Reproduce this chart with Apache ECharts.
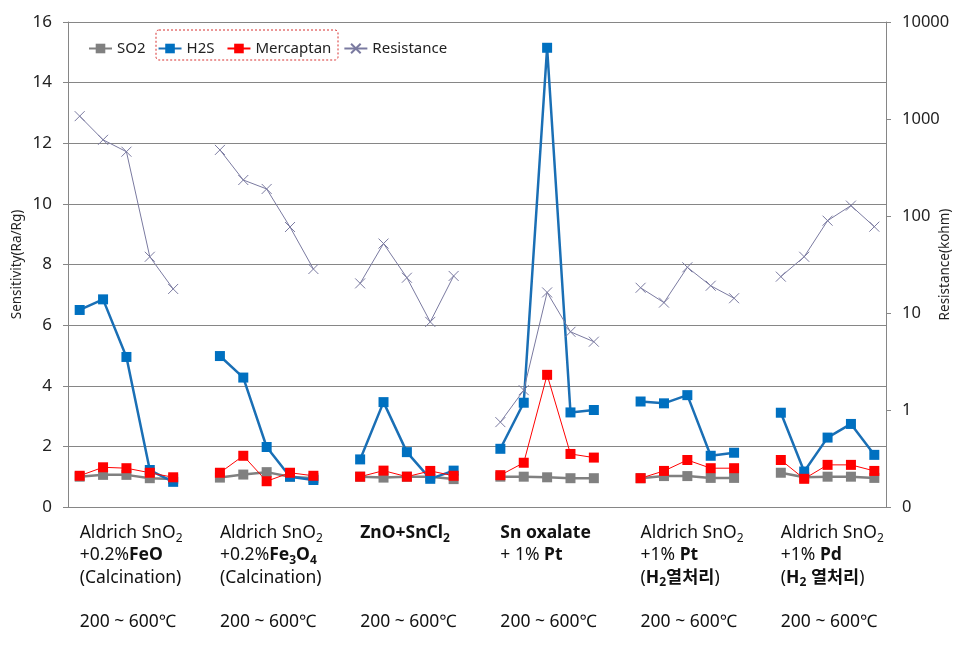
<!DOCTYPE html>
<html>
<head>
<meta charset="utf-8">
<script src="https://cdn.jsdelivr.net/npm/echarts@6/dist/echarts.min.js"></script>
<style>
html,body{margin:0;padding:0;background:#fff;}
#chart{width:962px;height:655px;}
</style>
</head>
<body>
<div id="chart"></div>
<script>
// Group labels (one per sample group, 5 temperatures each: 200~600 C)
var groupLabels = [
  'Aldrich SnO{sub|2}\n+0.2%{b|FeO}\n(Calcination)\n\n200 ~ 600℃',
  'Aldrich SnO{sub|2}\n+0.2%{b|Fe}{bsub|3}{b|O}{bsub|4}\n(Calcination)\n\n200 ~ 600℃',
  '{b|ZnO+SnCl}{bsub|2}\n\n\n\n200 ~ 600℃',
  '{b|Sn oxalate}\n+ 1% {b|Pt}\n\n\n200 ~ 600℃',
  'Aldrich SnO{sub|2}\n+1% {b|Pt}\n({b|H}{bsub|2}{b|열처리})\n\n200 ~ 600℃',
  'Aldrich SnO{sub|2}\n+1% {b|Pd}\n({b|H}{bsub|2}{b| 열처리})\n\n200 ~ 600℃'
];

// Sensitivity values per group (left axis)
var so2 = [
  [1.0, 1.06, 1.06, 0.95, 0.92],
  [0.97, 1.07, 1.15, 1.0, 0.95],
  [1.0, 0.97, 1.0, 1.0, 0.92],
  [1.0, 1.0, 0.98, 0.95, 0.95],
  [0.95, 1.02, 1.02, 0.96, 0.96],
  [1.13, 0.98, 1.0, 1.0, 0.96]
];
var h2s = [
  [6.5, 6.85, 4.95, 1.22, 0.83],
  [4.98, 4.27, 1.98, 1.0, 0.89],
  [1.57, 3.46, 1.81, 0.93, 1.2],
  [1.92, 3.44, 15.15, 3.12, 3.2],
  [3.48, 3.42, 3.69, 1.69, 1.79],
  [3.11, 1.17, 2.29, 2.74, 1.72]
];
var mercaptan = [
  [1.03, 1.31, 1.28, 1.13, 0.98],
  [1.13, 1.69, 0.85, 1.13, 1.03],
  [1.0, 1.2, 1.0, 1.19, 1.03],
  [1.05, 1.46, 4.36, 1.75, 1.63],
  [0.95, 1.19, 1.55, 1.28, 1.28],
  [1.55, 0.93, 1.39, 1.39, 1.19]
];
// Resistance (kohm, right log axis)
var resistance = [
  [1070, 610, 460, 38, 17.7],
  [480, 235, 190, 77, 28.4],
  [20.2, 52, 23.1, 8.1, 24.1],
  [0.75, 1.6, 16.3, 6.4, 5.06],
  [18.2, 12.8, 29.6, 19.1, 14.2],
  [23.7, 38, 89.5, 128, 77.6]
];
var rightTicks = [0.1, 1, 10, 100, 1000, 10000];

function flatten(groups) {
  var out = [];
  groups.forEach(function (g, i) {
    if (i > 0) out.push(null);
    g.forEach(function (v) { out.push(v); });
  });
  return out;
}
var categories = [];
groupLabels.forEach(function (lab, i) {
  if (i > 0) categories.push('');
  categories.push(lab);
  for (var k = 1; k < 5; k++) categories.push('');
});

var font = "'Noto Sans', 'Noto Sans CJK KR', sans-serif";
var axisGray = '#868686';
var chart = echarts.init(document.getElementById('chart'));
chart.setOption({
  animation: false,
  textStyle: { fontFamily: font },
  grid: { left: 68, right: 76, top: 22, bottom: 148, outerBoundsMode: 'none', containLabel: false },
  legend: {
    left: 88, top: 41, padding: 0,
    itemWidth: 23, itemHeight: 12, itemGap: 12,
    textStyle: { fontSize: 15, color: '#222', fontFamily: font },
    data: ['SO2', 'H2S', 'Mercaptan', 'Resistance']
  },
  graphic: [{
    type: 'rect', z: 100,
    shape: { x: 156, y: 30, width: 182, height: 30, r: 3 },
    style: { fill: 'none', stroke: '#d83030', lineWidth: 1, lineDash: [2, 2] }
  }],
  xAxis: {
    type: 'category',
    data: categories,
    boundaryGap: true,
    axisLine: { lineStyle: { color: axisGray } },
    axisTick: { interval: 0, length: 5, lineStyle: { color: axisGray } },
    axisLabel: {
      interval: 0, align: 'left', margin: 15,
      fontSize: 17.5, lineHeight: 22.3, color: '#111', fontFamily: font,
      rich: {
        b: { fontWeight: 'bold', fontSize: 17.5, lineHeight: 22.3, fontFamily: font },
        sub: { fontSize: 12, lineHeight: 12, verticalAlign: 'bottom', fontFamily: font },
        bsub: { fontSize: 12, lineHeight: 12, verticalAlign: 'bottom', fontWeight: 'bold', fontFamily: font }
      }
    }
  },
  yAxis: [{
    type: 'value', min: 0, max: 16, interval: 2,
    name: 'Sensitivity(Ra/Rg)', nameLocation: 'middle', nameGap: 44, nameRotate: 90,
    nameMoveOverlap: false,
    nameTextStyle: { fontSize: 13.5, color: '#222' },
    axisLine: { show: true, lineStyle: { color: axisGray } },
    axisTick: { show: true, length: 5, lineStyle: { color: axisGray } },
    axisLabel: { fontSize: 17, color: '#222', margin: 16 },
    splitLine: { lineStyle: { color: axisGray, width: 1 } }
  }, {
    type: 'log', logBase: 10, min: rightTicks[0], max: rightTicks[rightTicks.length - 1],
    name: 'Resistance(kohm)', nameLocation: 'middle', nameGap: 52, nameRotate: 90,
    nameMoveOverlap: false,
    nameTextStyle: { fontSize: 13.5, color: '#222' },
    axisLine: { show: true, lineStyle: { color: axisGray } },
    axisTick: { show: true, length: 5, lineStyle: { color: axisGray } },
    axisLabel: {
      fontSize: 16.5, color: '#222', margin: 16,
      formatter: function (v) { return v < 1 ? '0' : String(Math.round(v)); }
    },
    splitLine: { show: false }
  }],
  series: [{
    name: 'SO2', type: 'line', data: flatten(so2),
    symbol: 'rect', symbolSize: 10,
    itemStyle: { color: '#808080' },
    lineStyle: { color: '#808080', width: 2.5 }
  }, {
    name: 'H2S', type: 'line', data: flatten(h2s),
    symbol: 'rect', symbolSize: 10,
    itemStyle: { color: '#0070C0' },
    lineStyle: { color: '#1a6fb5', width: 2.5 }
  }, {
    name: 'Mercaptan', type: 'line', data: flatten(mercaptan),
    symbol: 'rect', symbolSize: 10,
    itemStyle: { color: '#FF0000' },
    lineStyle: { color: '#FF0000', width: 1 }
  }, {
    name: 'Resistance', type: 'line', yAxisIndex: 1, data: flatten(resistance),
    symbol: 'path://M0,0L10,10M10,0L0,10', symbolSize: 10,
    itemStyle: { color: 'rgba(0,0,0,0)', borderColor: '#7a7aa0', borderWidth: 1 },
    lineStyle: { color: '#7a7aa0', width: 1 }
  }]
});
</script>
</body>
</html>
